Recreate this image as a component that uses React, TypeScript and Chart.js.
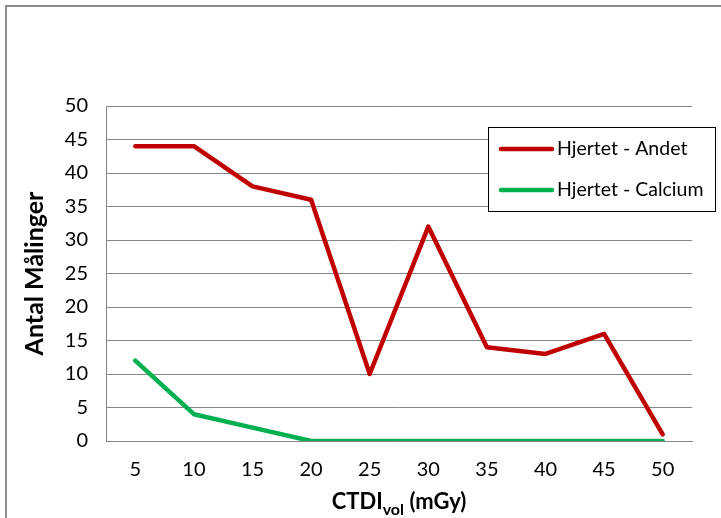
import React, { useEffect, useRef } from "react";
import { Chart, registerables } from "chart.js";

Chart.register(...registerables);

const categories = ["5", "10", "15", "20", "25", "30", "35", "40", "45", "50"];
const andetValues = [44, 44, 38, 36, 10, 32, 14, 13, 16, 1];
const calciumValues = [12, 4, 2, 0, 0, 0, 0, 0, 0, 0];
const seriesNames = ["Hjertet - Andet", "Hjertet - Calcium"];
const seriesColors = ["#C00000", "#00B050"];
const yTitle = "Antal Målinger";

const FONT = "Lato, 'Open Sans', sans-serif";
const GRID = "#868686";

// Outer frame, legend box and the axis titles (x title has a subscript)
const decorations = {
  id: "decorations",
  beforeDraw(chart: any) {
    const ctx = chart.ctx;
    ctx.save();
    ctx.fillStyle = "#ffffff";
    ctx.fillRect(0, 0, chart.width, chart.height);
    ctx.strokeStyle = "#8c8c8c";
    ctx.lineWidth = 2;
    ctx.beginPath();
    ctx.moveTo(6, chart.height + 2);
    ctx.lineTo(6, 6);
    ctx.lineTo(chart.width + 2, 6);
    ctx.stroke();
    ctx.restore();
  },
  afterDraw(chart: any) {
    const ctx = chart.ctx;
    const area = chart.chartArea;
    ctx.save();

    // y axis title
    ctx.fillStyle = "#000";
    ctx.font = `bold 25px ${FONT}`;
    ctx.textAlign = "center";
    ctx.textBaseline = "alphabetic";
    ctx.translate(43, (area.top + area.bottom) / 2 + 0);
    ctx.rotate(-Math.PI / 2);
    ctx.fillText(yTitle, 0, 0);
    ctx.setTransform(1, 0, 0, 1, 0, 0);

    // x axis title: CTDI with "vol" subscript
    const main = "CTDI";
    const sub = "vol";
    const rest = " (mGy)";
    ctx.textAlign = "left";
    ctx.textBaseline = "alphabetic";
    ctx.font = `bold 22px ${FONT}`;
    const wMain = ctx.measureText(main).width;
    const wRest = ctx.measureText(rest).width;
    ctx.font = `bold 16px ${FONT}`;
    const wSub = ctx.measureText(sub).width;
    const total = wMain + wSub + wRest;
    let x = (area.left + area.right) / 2 - total / 2;
    const baseY = 509;
    ctx.font = `bold 22px ${FONT}`;
    ctx.fillText(main, x, baseY);
    x += wMain;
    ctx.font = `bold 16px ${FONT}`;
    ctx.fillText(sub, x, baseY + 6);
    x += wSub;
    ctx.font = `bold 22px ${FONT}`;
    ctx.fillText(rest, x, baseY);

    // legend
    const lx = 488, ly = 127, lw = 227, lh = 84;
    ctx.fillStyle = "#ffffff";
    ctx.fillRect(lx, ly, lw, lh);
    ctx.strokeStyle = "#000";
    ctx.lineWidth = 1;
    ctx.strokeRect(lx + 0.5, ly + 0.5, lw, lh);
    ctx.font = `19.5px ${FONT}`;
    ctx.textBaseline = "middle";
    seriesNames.forEach((name, i) => {
      const yy = ly + 22 + i * 41;
      ctx.strokeStyle = seriesColors[i];
      ctx.lineWidth = 4.5;
      ctx.lineCap = "round";
      ctx.beginPath();
      ctx.moveTo(501, yy);
      ctx.lineTo(552, yy);
      ctx.stroke();
      ctx.fillStyle = "#000";
      ctx.fillText(name, 557, yy);
    });
    ctx.restore();
  },
};

export default function App() {
  const canvasRef = useRef<HTMLCanvasElement | null>(null);

  useEffect(() => {
    if (!canvasRef.current) return;
    const chart = new Chart(canvasRef.current, {
      type: "line",
      data: {
        labels: categories,
        datasets: [
          {
            label: seriesNames[0],
            data: andetValues,
            borderColor: seriesColors[0],
            backgroundColor: seriesColors[0],
            borderWidth: 4.5,
            borderCapStyle: "round",
            borderJoinStyle: "round",
            pointRadius: 0,
            tension: 0,
          },
          {
            label: seriesNames[1],
            data: calciumValues,
            borderColor: seriesColors[1],
            backgroundColor: seriesColors[1],
            borderWidth: 4.5,
            borderCapStyle: "round",
            borderJoinStyle: "round",
            pointRadius: 0,
            tension: 0,
          },
        ],
      },
      options: {
        animation: false,
        responsive: false,
        layout: { padding: { top: 106, right: 29, left: 0, bottom: 0 } },
        plugins: { legend: { display: false }, tooltip: { enabled: false } },
        scales: {
          x: {
            offset: true,
            grid: { display: false, drawTicks: false },
            border: { display: true, color: GRID, width: 1 },
            ticks: { color: "#000", font: { family: FONT, size: 20 }, padding: 17 },
            afterFit: (s: any) => { s.height = 77; },
          },
          y: {
            min: 0,
            max: 50,
            ticks: { stepSize: 5, color: "#000", font: { family: FONT, size: 20 }, padding: 18 },
            grid: { color: GRID, drawTicks: false, lineWidth: 1 },
            border: { display: true, color: GRID, width: 1 },
            afterFit: (s: any) => { s.width = 106; },
          },
        },
      },
      plugins: [decorations],
    });
    return () => chart.destroy();
  }, []);

  return (
    <div style={{ position: "fixed", left: 0, top: 0, width: 721, height: 518 }}>
      <canvas ref={canvasRef} width={721} height={518} />
    </div>
  );
}
